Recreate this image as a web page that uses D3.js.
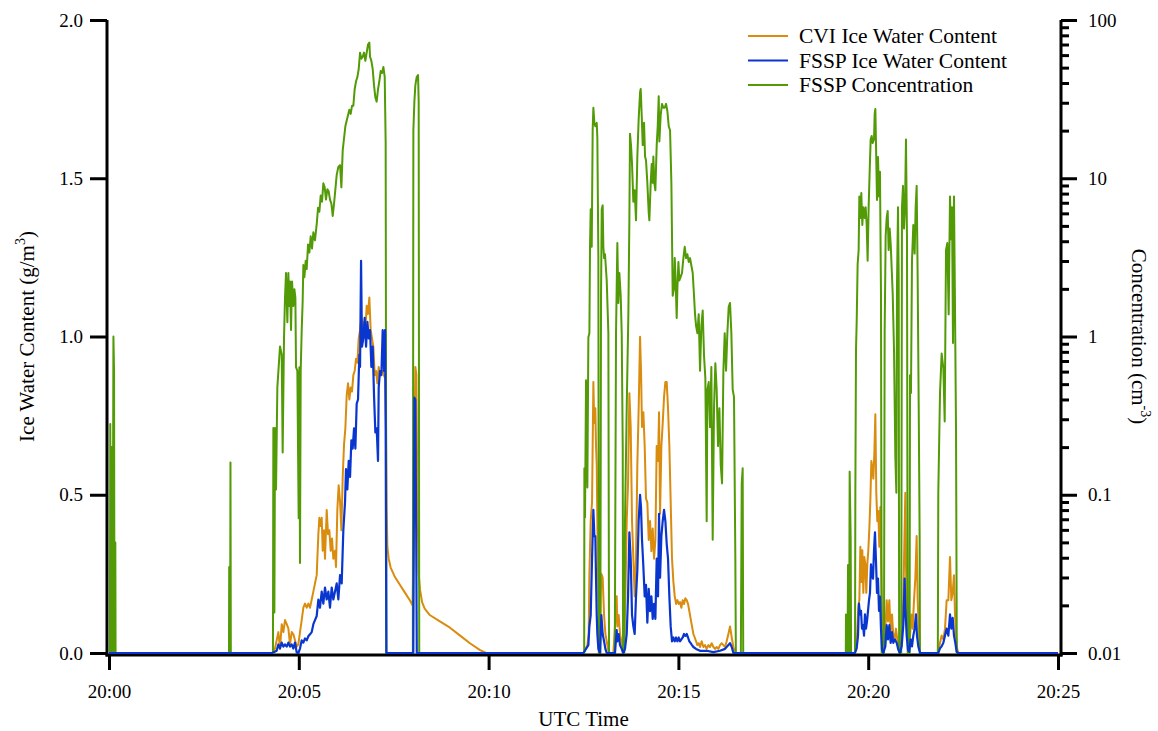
<!DOCTYPE html>
<html>
<head>
<meta charset="utf-8">
<script src="https://cdn.jsdelivr.net/npm/d3@7"></script>
<style>
  body { margin: 0; background: #fff; }
  svg { display: block; }
</style>
</head>
<body>
<div id="chart"></div>
<script>
// time in seconds after 20:00:00 UTC
const timeTicks = [0, 300, 600, 900, 1200, 1500];
const iwcTicks = [0, 0.5, 1.0, 1.5, 2.0];
const concTicks = [0.01, 0.1, 1, 10, 100];

const seriesNames = ["CVI Ice Water Content", "FSSP Ice Water Content", "FSSP Concentration"];
const seriesColors = ["#d98c0e", "#0a36d0", "#529a06"];

// CVI ice water content (g/m3)
const cviIwc = [
  [0,0],[258,0],[262.4,0.014],[265,0.04],[267.7,0.066],[270.3,0.014],[273,0.091],[275.6,0.066],[278.2,0.104],
  [280.9,0.091],[283.5,0.078],[286.1,0.027],[288.8,0.066],[291.4,0.059],[294,0.04],[296.7,0.02],[299.3,0.027],
  [301.9,0.066],[304.6,0.104],[307.2,0.143],[309.8,0.156],[312.5,0.143],[315.1,0.156],[317.7,0.143],[320.4,0.169],
  [323,0.194],[325.6,0.22],[328.3,0.246],[330.9,0.375],[332.5,0.427],[334.6,0.401],[336.2,0.427],[337.8,0.323],
  [339.9,0.388],[341.4,0.298],[344.1,0.452],[346.2,0.375],[348.3,0.388],[350.4,0.323],[352.5,0.362],[354.6,0.298],
  [357.2,0.323],[358.8,0.272],[360.9,0.452],[363,0.53],[365.2,0.478],[367.3,0.388],[369.4,0.556],[371.5,0.659],
  [373.6,0.71],[375.7,0.814],[377.8,0.852],[379.9,0.801],[382,0.839],[384.1,0.826],[386.2,0.878],[388.3,0.891],
  [390.5,0.93],[392.6,0.917],[394.7,0.994],[396.8,1.02],[398.9,1.059],[401,1.02],[403.1,1.046],[405.2,1.02],
  [407.3,1.097],[409.4,1.071],[411.5,1.123],[413.6,1.02],[415.7,0.994],[417.8,0.968],[420,0.878],[422.1,0.891],
  [424.2,0.852],[426.3,0.904],[428.4,0.878],[430.5,0.891],[432.6,0.891],[434.7,0.878],[436.8,0.865],[437.9,0.71],
  [438.9,0.452],[440,0.336],[442.1,0.298],[445.2,0.27],[452,0.24],[460,0.215],[468,0.19],[476,0.165],[480,0.15],
  [482.1,0.5],[484.2,0.904],[485.8,0.88],[487.4,0.5],[489.5,0.25],[491.6,0.2],[495,0.16],[499,0.14],[507,0.12],
  [523,0.1],[539,0.08],[555,0.055],[571,0.03],[586,0.01],[596,0],
  [750,0],[756.1,0.025],[758.2,0.06],[759.3,0.25],[761.4,0.417],[763.5,0.476],[765.6,0.856],[766.6,0.761],
  [767.7,0.726],[768.7,0.773],[769.8,0.654],[770.9,0.595],[771.9,0.417],[773.5,0.179],[775.1,0.096],[776.1,0],
  [777.2,0.179],[778.2,0.25],[780.3,0.238],[782.5,0.12],[784.6,0.06],[786.7,0.037],[789.3,0.007],[791.9,0],
  [797.2,0],[799.8,0.084],[802.5,0.179],[803.5,0.084],[805.6,0.12],[807.7,0.06],[809.8,0.037],[812,0],
  [814.1,0.013],[816.2,0.179],[818.3,0.417],[820.4,0.535],[822.5,0.821],[824.6,0.714],[826.7,0.417],[828.8,0.298],
  [830.9,0.179],[833,0.298],[835.1,0.595],[837.2,0.773],[839.4,0.999],[840.9,0.892],[842.5,0.714],[844.6,0.761],
  [846.7,0.654],[848.8,0.488],[850.9,0.476],[853.1,0.357],[855.2,0.417],[857.3,0.322],[859.4,0.393],[861.5,0.298],
  [863.6,0.357],[865.7,0.654],[867.8,0.607],[869.4,0.761],[871,0.44],[873.1,0.654],[875.2,0.726],[877.3,0.809],
  [879.4,0.856],[881.5,0.856],[883.6,0.773],[885.7,0.654],[887.8,0.476],[889.9,0.298],[892,0.227],[894.2,0.179],
  [896.3,0.155],[898.4,0.167],[900.5,0.155],[902.6,0.161],[904.7,0.143],[906.8,0.167],[908.9,0.155],[911,0.173],
  [913.1,0.167],[915.2,0.155],[917.3,0.132],[919.4,0.108],[921.5,0.084],[923.7,0.06],[925.8,0.049],[927.9,0.037],
  [930,0.025],[932.1,0.031],[934.2,0.019],[936.8,0.037],[939.5,0.019],[942.1,0.025],[944.7,0.013],[947.4,0.025],
  [950,0.019],[952.6,0.031],[955.3,0.019],[957.9,0.013],[960.5,0.019],[963.2,0.013],[965.8,0.025],[968.4,0.031],
  [971.1,0.025],[973.7,0.019],[976.3,0.037],[979,0.06],[981.6,0.084],[984.3,0.049],[986.9,0.019],[989.5,0],
  [1179.1,0],[1181.8,0.032],[1184.4,0.145],[1186,0.167],[1187.6,0.336],[1189.1,0.224],[1190.7,0.325],[1192.3,0.19],
  [1193.9,0.303],[1195.5,0.28],[1197,0.19],[1198.6,0.28],[1200.2,0.325],[1201.8,0.393],[1203.4,0.483],[1205,0.607],
  [1206.5,0.585],[1208.1,0.551],[1209.7,0.63],[1211.3,0.754],[1212.8,0.506],[1214.4,0.416],[1216,0.449],[1217.6,0.336],
  [1219.2,0.461],[1220.8,0.224],[1222.3,0.032],[1223.9,0],[1226.5,0.043],[1229.2,0.167],[1231.3,0.1],[1233.4,0.167],
  [1235.5,0.066],[1237.6,0.122],[1239.7,0.055],[1241.8,0.043],[1243.9,0.077],[1246,0.043],[1247.6,0.021],[1250.3,0],
  [1252.9,0.055],[1255.5,0.167],[1257.6,0.393],[1258.7,0.506],[1259.7,0.28],[1261.9,0.055],[1264,0.01],[1266.1,0.055],
  [1268.2,0.122],[1270.3,0.077],[1272.4,0.167],[1274.5,0.235],[1276.6,0.37],[1278.2,0.167],[1280.3,0.055],[1281.9,0],
  [1310.8,0],[1313.5,0.032],[1316.1,0.055],[1318.8,0.043],[1321.4,0.077],[1324,0.167],[1326.7,0.167],[1329.3,0.303],
  [1331.4,0.167],[1333.5,0.19],[1335.6,0.246],[1337.2,0.122],[1338.8,0.055],[1340.9,0.01],[1343,0],[1500,0]
];

// FSSP ice water content (g/m3)
const fsspIwc = [
  [0,0],[258,0],[265,0.007],[267.7,0.027],[270.3,0.014],[273,0.033],[275.6,0.02],[278.2,0.027],[280.9,0.02],
  [283.5,0.033],[286.1,0.02],[288.8,0.027],[291.4,0.014],[294,0.033],[296.7,0.001],[299.3,0],[301.9,0.014],
  [304.6,0.04],[307.2,0.033],[309.8,0.046],[312.5,0.04],[315.1,0.053],[317.7,0.059],[320.4,0.066],[323,0.091],
  [325.6,0.104],[328.3,0.117],[330.9,0.169],[333.5,0.143],[336.2,0.194],[338.8,0.156],[341.4,0.207],[344.1,0.169],
  [346.7,0.194],[349.3,0.143],[352,0.207],[354.6,0.169],[357.2,0.194],[359.9,0.22],[362.5,0.169],[365.2,0.246],
  [367.8,0.22],[370.4,0.388],[373.1,0.478],[374.6,0.581],[376.7,0.517],[378.9,0.607],[381,0.556],[383.1,0.672],
  [385.2,0.646],[387.3,0.71],[389.4,0.646],[391.5,0.788],[393.6,0.801],[395.7,0.943],[396.8,0.904],[398.4,1.239],
  [399.9,0.968],[402,0.994],[404.1,1.059],[406.3,0.968],[408.4,1.046],[410.5,0.994],[412.6,1.02],[414.7,0.904],
  [416.8,0.968],[418.9,0.814],[421,0.697],[423.1,0.71],[425.2,0.607],[426.3,0.839],[428.4,0.891],[430.5,0.878],
  [432.6,1.02],[434.7,0.891],[436.3,1.02],[437.3,0.71],[438.4,0],
  [481,0],[482.7,0.807],[484.2,0.8],[485.5,0.4],[486.5,0],
  [750,0],[757.7,0.025],[759.3,0.084],[761.4,0.12],[763.5,0.298],[765.6,0.452],[767.2,0.369],[768.7,0.369],
  [769.8,0.238],[770.9,0.12],[771.9,0.06],[773.5,0.013],[776.1,0],[778.2,0.12],[780.3,0.06],[782.5,0.037],
  [784.6,0.013],[786.7,0],[799.8,0],[802.5,0.072],[803.5,0.037],[805.6,0.06],[807.7,0.025],[810.4,0.013],[813,0],
  [815.6,0.013],[818.3,0.06],[820.4,0.179],[822.5,0.381],[824.6,0.298],[826.7,0.12],[828.8,0.084],[830.9,0.06],
  [833,0.179],[835.1,0.262],[837.2,0.417],[839.4,0.5],[840.9,0.46],[842.5,0.357],[844.6,0.274],[846.7,0.179],
  [848.8,0.215],[850.9,0.096],[853.1,0.203],[855.2,0.132],[857.3,0.179],[859.4,0.108],[861.5,0.155],[863.6,0.108],
  [865.7,0.298],[867.8,0.179],[869.4,0.44],[871,0.238],[873.1,0.369],[875.2,0.417],[877.3,0.452],[879.4,0.417],
  [881.5,0.345],[883.6,0.298],[885.7,0.179],[887.8,0.084],[889.9,0.037],[892,0.049],[894.2,0.037],[896.3,0.049],
  [898.4,0.037],[900.5,0.049],[902.6,0.037],[904.7,0.043],[906.8,0.049],[908.9,0.06],[911,0.054],[913.1,0.06],
  [915.2,0.049],[917.3,0.037],[919.4,0.031],[921.5,0.025],[923.7,0.019],[927.9,0.013],[934.2,0.007],[944.7,0.007],
  [955.3,0.003],[965.8,0.007],[973.7,0.013],[979,0.025],[981.6,0.031],[984.3,0.019],[986.9,0],
  [1179.1,0],[1181.8,0.015],[1183.9,0.055],[1185.4,0.156],[1187,0.122],[1188.6,0.133],[1190.2,0.077],[1191.8,0.088],
  [1193.4,0.055],[1194.9,0.122],[1196.5,0.077],[1198.1,0.1],[1199.7,0.133],[1201.3,0.167],[1202.8,0.19],[1204.4,0.28],
  [1206,0.246],[1207.6,0.235],[1209.2,0.325],[1210.7,0.381],[1212.3,0.291],[1213.9,0.19],[1215.5,0.235],[1217.1,0.133],
  [1218.6,0.178],[1220.2,0.077],[1221.8,0.01],[1223.9,0],[1227.1,0.021],[1229.2,0.088],[1231.3,0.043],[1233.4,0.088],
  [1235.5,0.032],[1237.6,0.066],[1239.7,0.032],[1242.3,0.043],[1245,0.032],[1247.6,0.01],[1250.3,0],[1252.9,0.021],
  [1255.5,0.088],[1257.6,0.235],[1258.7,0.145],[1260.8,0.055],[1262.9,0.01],[1265,0.004],[1267.1,0.043],[1269.2,0.021],
  [1271.3,0.055],[1273.4,0.077],[1275.5,0.122],[1277.1,0.055],[1279.2,0.021],[1281.9,0],
  [1310.8,0],[1313.5,0.015],[1316.1,0.021],[1318.8,0.032],[1321.4,0.055],[1324,0.077],[1326.7,0.055],[1329.3,0.122],
  [1331.4,0.077],[1333.5,0.111],[1335.6,0.055],[1337.7,0.032],[1339.8,0.004],[1341.9,0],[1500,0]
];

// FSSP concentration (cm-3), 0 = no particles
const fsspConc = [
  [0,0],[1,0],[2,0.28],[3,0],[4,0.2],[5,0],[7,1.0],[8,0.6],[9,0],[10,0.05],[11,0],
  [189,0],[190,0.035],[191,0],[192,0.16],[193,0],
  [258.7,0],[259.8,0.264],[261.4,0.018],[262.4,0.264],[264,0.108],[266.1,0.477],[270.3,0.865],[273,0.767],
  [274.5,0.185],[276.6,0.97],[278.2,1.76],[279.8,2.52],[281.9,1.23],[283.5,2.52],[285.1,1.56],[286.1,2.23],
  [287.7,1.1],[289.3,2.23],[291.4,1.56],[293,1.99],[294.6,1.76],[295.6,0.64],[297.7,0.605],[299.8,0.071],
  [300.9,0.64],[301.9,0.037],[303,0.605],[304.6,1.1],[306.1,1.66],[307.2,2.83],[308.8,2.37],[310.9,3.01],
  [312.5,2.67],[314.6,3.81],[316.7,3.39],[318.8,4.3],[320.9,3.6],[323,4.56],[325.6,4.05],[328.3,5.13],[330.4,6.51],
  [332.5,6.14],[334.6,7.78],[336.7,7.11],[338.8,9.29],[340.9,8.76],[343,7.33],[345.1,8.51],[347.2,8.26],[349.3,7.33],
  [351.5,6.9],[353.6,5.78],[355.7,6.9],[357.8,8.51],[359.9,10.5],[362.5,11.8],[365.2,12.1],[367.3,8.76],[369.4,15],
  [371.5,17.9],[373.6,21.3],[376.7,24],[379.9,27.1],[382,25.5],[384.1,28.7],[386.2,28.7],[388.3,36.5],[390.5,41],
  [392.6,43.6],[394.7,49],[396.8,62.2],[398.9,56.9],[401,58.6],[403.1,62.2],[405.2,55.2],[407.3,62.2],[409.4,70],
  [411.5,72.1],[412.6,58.6],[414.7,55.2],[416.8,49],[418.9,38.6],[421,32.4],[423.1,30.5],[425.2,36.5],[427.3,41],
  [429.4,47.6],[431.5,46.2],[433.7,50.5],[435.8,43.6],[437.3,16.8],[438.9,0],
  [480,0],[481.1,20.1],[482.7,30.5],[484.2,38.6],[486.3,43.6],[488.5,44.9],[489.5,30.5],[490.6,0],
  [750.8,0],[751.4,0.147],[752.4,0.072],[754,0.53],[756.1,0.111],[757.7,0.99],[759.3,1.05],[760.3,3.69],[761.4,6.38],
  [763,3.69],[764.5,20.1],[765.6,27.9],[767.2,22.4],[768.7,21.3],[770.9,22.4],[771.9,18],[773.5,3.13],[774.5,0],
  [776.1,0],[777.7,1.81],[778.8,6.38],[780.3,6.74],[781.4,3.69],[782.5,3.13],[784,3.31],[786.7,2.26],[789.3,1.05],
  [790.9,0],[798.5,0],[799.8,0.023],[801.4,1.05],[803.5,3.9],[805.1,1.63],[806.7,2.52],[808.8,1.81],[810.4,1.05],
  [812,0.203],[813,0],[815.6,0.068],[818.3,0.352],[820.9,1.38],[822.5,5.42],[823.5,19.1],[825.1,16.2],[826.7,12.3],
  [828.8,7.11],[830.9,8.39],[833,5.42],[835.1,13.7],[837.2,23.7],[839.4,34.8],[840.4,36.7],[842,25.1],[843.6,16.2],
  [845.7,22.4],[847.3,13.7],[848.8,13],[850.9,9.35],[853.1,6.04],[854.1,5.42],[856.2,9.35],[857.8,12.3],[859.4,9.35],
  [860.4,13.7],[862,9.35],[863.6,8.39],[865.7,16.2],[867.3,21.3],[868.9,33],[869.9,17.1],[872,25.1],[874.1,29.5],
  [876.2,27.9],[878.3,27.9],[880.5,29.5],[882.6,26.5],[884.7,21.3],[886.8,20.1],[888.9,9.35],[891,1.81],[893.1,2.02],
  [894.2,3.13],[895.2,2.52],[896.3,1.81],[897.3,1.31],[898.4,2.02],[900,2.96],[901.5,2.26],[903.6,2.38],[905.7,2.52],
  [907.9,3.13],[910,3.69],[912.1,3.13],[914.2,3.31],[916.3,2.96],[918.4,3.13],[920.5,2.81],[922.6,2.52],[924.7,1.81],
  [926.3,1.38],[927.9,1.17],[930,1.05],[932.1,1.38],[934.2,0.607],[936.3,1.17],[938.4,1.46],[940.5,0.755],[942.6,0.544],
  [944.7,0.068],[945.8,0.462],[947.9,0.515],[950,0.267],[952.1,0.641],[954.2,0.052],[956.3,0.352],[958.4,0.678],
  [960.5,0.462],[962.6,0.203],[964.8,0.352],[966.9,0.155],[969,0.118],[971.1,0.607],[973.2,1.05],[975.3,0.607],
  [977.4,1.05],[979.5,1.54],[981.6,1.63],[983.7,1.05],[985.8,0.462],[987.9,0.414],[990,0.039],[992.2,0],[997.4,0],
  [1000.1,0.118],[1001.6,0.147],[1003.2,0],
  [1163.3,0],[1164.9,0.0175],[1166,0],[1168.1,0.036],[1169.1,0],[1170.7,0.14],[1172.3,0.052],[1173.9,0],[1178.6,0],
  [1179.7,0.103],[1180.7,0.82],[1181.8,1.24],[1183.3,2.86],[1184.9,3.52],[1186,7.67],[1187.6,5.61],[1189.1,8.07],
  [1190.7,5.06],[1192.3,6.56],[1194.4,5.61],[1196,6.56],[1197.6,5.06],[1199.1,3.01],[1200.7,6.56],[1202.3,11],
  [1203.9,17.6],[1205.5,18.5],[1207.1,16.7],[1209.2,17.6],[1210.2,25.4],[1211.3,27.4],[1212.3,16.7],[1213.9,7.28],
  [1215.5,13.6],[1217.1,7.67],[1218.6,11],[1220.2,1.88],[1221.8,0],[1224.4,0],[1226,1.06],[1227.6,4.33],[1229.2,5.61],
  [1230.8,6.22],[1232.3,3.52],[1233.9,4.81],[1235.5,3.9],[1237.1,2.71],[1238.7,1.88],[1240.8,0.82],[1242.9,0.173],
  [1244.5,0.103],[1245.5,2.09],[1247.1,6.56],[1248.2,2.32],[1249.2,0],[1251.8,0],[1253.4,6.56],[1255,8.95],
  [1256.6,4.81],[1258.2,6.56],[1259.7,17.6],[1261.3,4.33],[1262.9,0],[1265,0],[1266.1,0.57],[1267.6,0.44],
  [1269.2,3.01],[1271.3,5.06],[1273.4,3.34],[1275,6.56],[1276.6,8.95],[1278.2,2.32],[1279.8,0.377],[1281.3,0.055],
  [1282.4,0],
  [1309.3,0],[1310.8,0.103],[1313.5,0.44],[1316.1,0.78],[1318.8,0.63],[1320.9,0.29],[1323,3.52],[1325.1,3.9],
  [1327.2,1.38],[1329.3,7.67],[1330.9,4.11],[1332.5,6.56],[1334,0.91],[1335.6,7.67],[1337.2,1.53],[1338.8,0.262],
  [1340.9,0],[1500,0]
];

const W = 1158, H = 731;
const serif = "Liberation Serif";

const svg = d3.select("#chart").append("svg")
  .attr("width", W)
  .attr("height", H)
  .attr("font-family", serif);

const x = d3.scaleLinear().domain([0, 1500]).range([109, 1058]);
const yIwc = d3.scaleLinear().domain([0, 2]).range([653, 20]);
const yConc = d3.scaleLog().domain([0.01, 100]).range([653, 20]);

const axisLeft = 107, axisRight = 1061, axisBottom = 655;

function styleAxis(g, size) {
  g.attr("font-family", serif);
  g.select(".domain").remove();
  g.selectAll(".tick line").attr("stroke", "#000").attr("stroke-width", 3);
  g.selectAll(".tick text").attr("font-size", size).attr("fill", "#000")
    .attr("font-family", serif);
}

// left axis
svg.append("g")
  .attr("transform", `translate(${axisLeft},0)`)
  .call(d3.axisLeft(yIwc).tickValues(iwcTicks).tickSize(17).tickPadding(7).tickFormat(d3.format(".1f")))
  .call(g => styleAxis(g, 19));

// right axis, major + minor ticks
svg.append("g")
  .attr("transform", `translate(${axisRight},0)`)
  .call(d3.axisRight(yConc).tickValues(concTicks).tickSize(16).tickPadding(11).tickFormat(d => String(d)))
  .call(g => styleAxis(g, 19));

const minor = yConc.ticks().filter(v => !concTicks.some(m => Math.abs(m - v) < 1e-9));
svg.append("g")
  .attr("transform", `translate(${axisRight},0)`)
  .call(d3.axisRight(yConc).tickValues(minor).tickSize(8).tickFormat(""))
  .call(g => styleAxis(g, 19));

// bottom axis
svg.append("g")
  .attr("transform", `translate(0,${axisBottom})`)
  .call(d3.axisBottom(x).tickValues(timeTicks).tickSize(15).tickPadding(15)
    .tickFormat(s => "20:" + d3.format("02")(Math.round(s / 60))))
  .call(g => styleAxis(g, 19));

// axis lines
svg.append("line")
  .attr("x1", axisLeft).attr("x2", axisLeft)
  .attr("y1", yIwc(2)).attr("y2", axisBottom + 1.5)
  .attr("stroke", "#000").attr("stroke-width", 3);
svg.append("line")
  .attr("x1", axisRight).attr("x2", axisRight)
  .attr("y1", yConc(100)).attr("y2", axisBottom + 1.5)
  .attr("stroke", "#000").attr("stroke-width", 3);
svg.append("line")
  .attr("x1", axisLeft - 1.5).attr("x2", axisRight + 1.5)
  .attr("y1", axisBottom).attr("y2", axisBottom)
  .attr("stroke", "#000").attr("stroke-width", 3);

// clip so that zero concentration falls below the plot
svg.append("clipPath").attr("id", "plot-clip")
  .append("rect")
  .attr("x", axisLeft).attr("y", 0)
  .attr("width", axisRight - axisLeft).attr("height", axisBottom - 1);

const plot = svg.append("g").attr("clip-path", "url(#plot-clip)");

const iwcLine = d3.line().x(d => x(d[0])).y(d => yIwc(d[1]));
const concLine = d3.line().x(d => x(d[0])).y(d => yConc(Math.max(d[1], 0.001)));

plot.append("path").datum(cviIwc)
  .attr("d", iwcLine).attr("fill", "none")
  .attr("stroke", seriesColors[0]).attr("stroke-width", 2).attr("stroke-linejoin", "round");
plot.append("path").datum(fsspConc)
  .attr("d", concLine).attr("fill", "none")
  .attr("stroke", seriesColors[2]).attr("stroke-width", 2).attr("stroke-linejoin", "round");
plot.append("path").datum(fsspIwc)
  .attr("d", iwcLine).attr("fill", "none")
  .attr("stroke", seriesColors[1]).attr("stroke-width", 2.2).attr("stroke-linejoin", "round");

// axis titles
svg.append("text")
  .attr("x", (x(0) + x(1500)) / 2).attr("y", 726)
  .attr("text-anchor", "middle").attr("font-size", 21)
  .attr("font-family", serif)
  .text("UTC Time");

const leftTitle = svg.append("text")
  .attr("transform", `translate(34,${(yIwc(0) + yIwc(2)) / 2}) rotate(-90)`)
  .attr("text-anchor", "middle").attr("font-size", 21)
  .attr("font-family", serif);
leftTitle.append("tspan").text("Ice Water Content (g/m");
leftTitle.append("tspan").attr("dy", -9).attr("font-size", 14).text("3");
leftTitle.append("tspan").attr("dy", 9).text(")");

const rightTitle = svg.append("text")
  .attr("transform", `translate(1132,${(yConc(0.01) + yConc(100)) / 2}) rotate(90)`)
  .attr("text-anchor", "middle").attr("font-size", 21)
  .attr("font-family", serif);
rightTitle.append("tspan").text("Concentration (cm");
rightTitle.append("tspan").attr("dy", -9).attr("font-size", 14).text("-3");
rightTitle.append("tspan").attr("dy", 9).text(")");

// legend
const legend = svg.append("g").attr("transform", "translate(748,36)");
seriesNames.forEach((name, i) => {
  const row = legend.append("g").attr("transform", `translate(0,${i * 24.5})`);
  row.append("line")
    .attr("x1", 0).attr("x2", 40).attr("y1", 0).attr("y2", 0)
    .attr("stroke", seriesColors[i]).attr("stroke-width", 2);
  row.append("text")
    .attr("x", 51).attr("y", 0).attr("dy", "0.33em")
    .attr("font-size", 21.5)
    .attr("font-family", serif)
    .text(name);
});
</script>
</body>
</html>
